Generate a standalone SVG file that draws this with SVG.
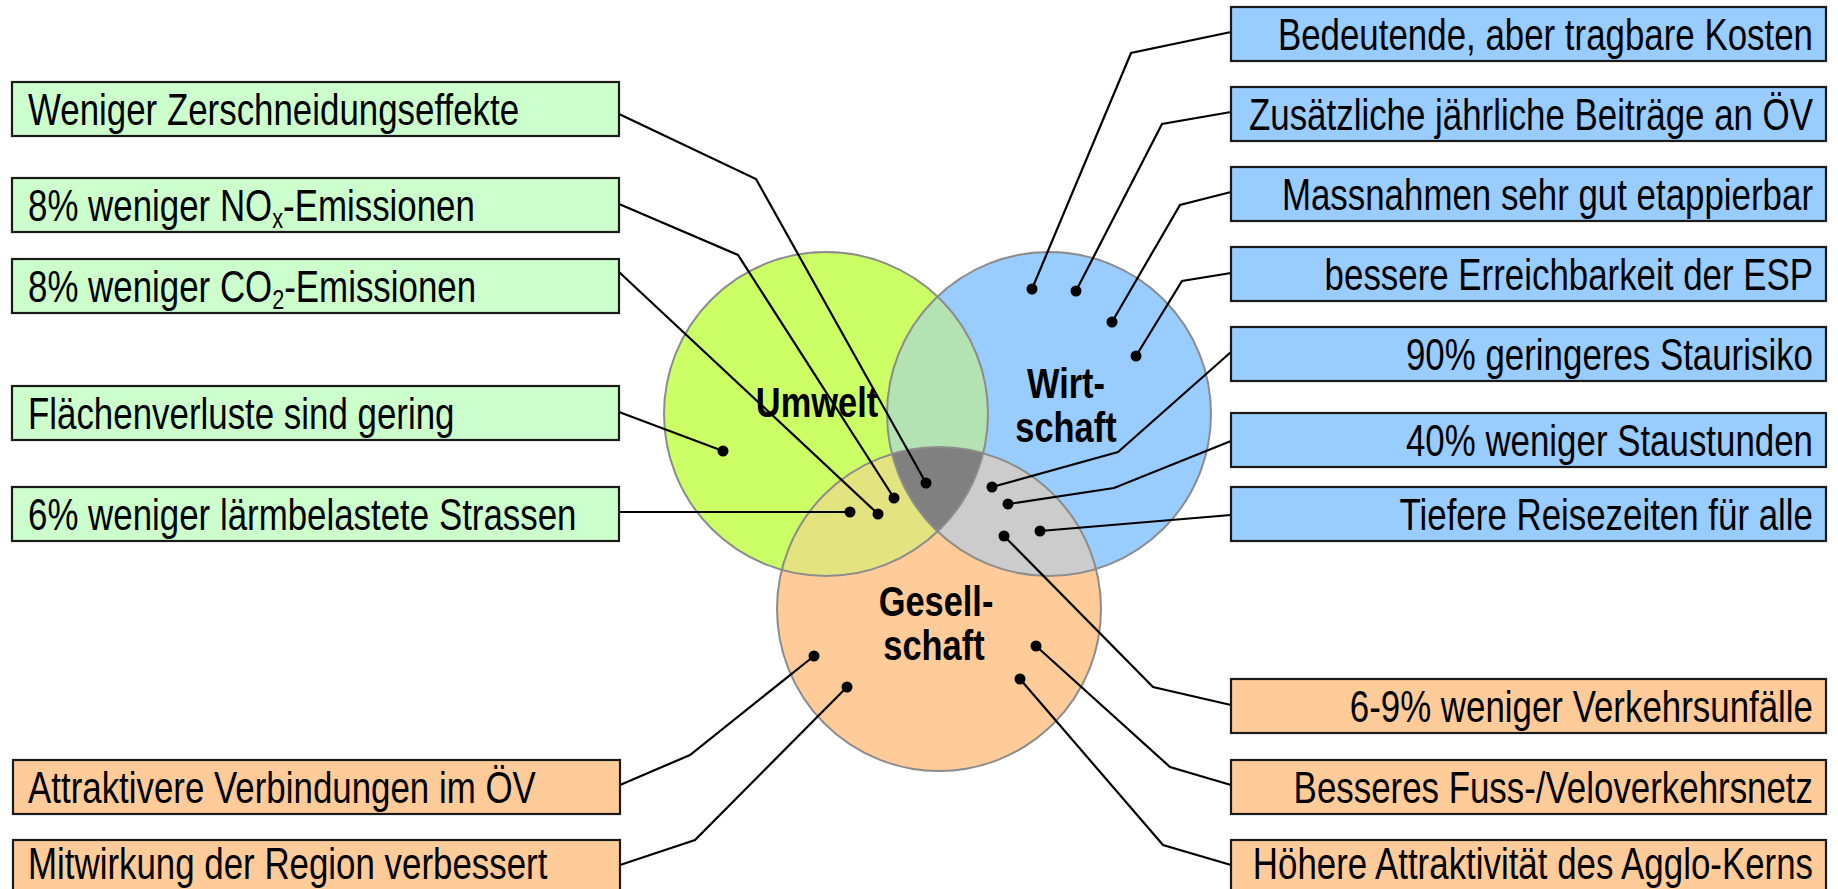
<svg xmlns="http://www.w3.org/2000/svg" width="1838" height="889" viewBox="0 0 1838 889">
<style>
.bg{fill:#CCFFCC;stroke:#1a1a1a;stroke-width:2.2}
.bb{fill:#99CCFF;stroke:#1a1a1a;stroke-width:2.2}
.bo{fill:#FFCC99;stroke:#1a1a1a;stroke-width:2.2}
.t{font-family:"Liberation Sans",Arial,sans-serif;font-size:45px;fill:#000}
.r{text-anchor:end}
.lbl{font-family:"Liberation Sans",Arial,sans-serif;font-size:43px;font-weight:bold;fill:#000;text-anchor:middle}
.ring{fill:none;stroke:#8c8c8c;stroke-width:2}
.con polyline{fill:none;stroke:#000;stroke-width:2.2;stroke-linejoin:miter}
.con circle{fill:#000}
</style>
<defs>
<clipPath id="clipG"><circle cx="826" cy="414" r="162"/></clipPath>
<clipPath id="clipB"><circle cx="1049" cy="414" r="162"/></clipPath>
</defs>
<rect width="1838" height="889" fill="#fff"/>
<g id="venn">
<circle cx="826" cy="414" r="162" fill="#CCFF66"/>
<circle cx="1049" cy="414" r="162" fill="#99CCFF"/>
<circle cx="939" cy="609" r="162" fill="#FFCC99"/>
<circle cx="1049" cy="414" r="162" fill="#B3E3B3" clip-path="url(#clipG)"/>
<circle cx="939" cy="609" r="162" fill="#E3E380" clip-path="url(#clipG)"/>
<circle cx="939" cy="609" r="162" fill="#CCCCCC" clip-path="url(#clipB)"/>
<g clip-path="url(#clipB)"><circle cx="939" cy="609" r="162" fill="#808080" clip-path="url(#clipG)"/></g>
<circle class="ring" cx="826" cy="414" r="162"/>
<circle class="ring" cx="1049" cy="414" r="162"/>
<circle class="ring" cx="939" cy="609" r="162"/>
<g id="label-umwelt"><text class="lbl" transform="translate(817,417) scale(0.8,1)">Umwelt</text></g>
<g id="label-wirtschaft"><text class="lbl" transform="translate(1066,398) scale(0.8,1)">Wirt-</text><text class="lbl" transform="translate(1066,442) scale(0.8,1)">schaft</text></g>
<g id="label-gesellschaft"><text class="lbl" transform="translate(936,616) scale(0.8,1)">Gesell-</text><text class="lbl" transform="translate(934,660) scale(0.8,1)">schaft</text></g>
</g>
<g id="connectors" class="con">
<polyline points="619,114 756,179 926,483"/>
<polyline points="619,204 738,255 894,498"/>
<polyline points="619,272 878,514"/>
<polyline points="619,412 723,451"/>
<polyline points="619,512 850,512"/>
<polyline points="620,785 690,755 814,656"/>
<polyline points="620,865 695,840 847,687"/>
<polyline points="1231,32 1131,53 1032,289"/>
<polyline points="1231,112 1162,124 1076,291"/>
<polyline points="1231,192 1180,205 1112,322"/>
<polyline points="1231,273 1182,281 1136,356"/>
<polyline points="1231,352 1118,452 992,487"/>
<polyline points="1231,441 1114,488 1008,504"/>
<polyline points="1231,515 1040,531"/>
<polyline points="1231,705 1153,687 1004,536"/>
<polyline points="1231,785 1170,767 1036,646"/>
<polyline points="1231,865 1163,845 1020,679"/>
<circle cx="926" cy="483" r="5.5"/>
<circle cx="894" cy="498" r="5.5"/>
<circle cx="878" cy="514" r="5.5"/>
<circle cx="723" cy="451" r="5.5"/>
<circle cx="850" cy="512" r="5.5"/>
<circle cx="814" cy="656" r="5.5"/>
<circle cx="847" cy="687" r="5.5"/>
<circle cx="1032" cy="289" r="5.5"/>
<circle cx="1076" cy="291" r="5.5"/>
<circle cx="1112" cy="322" r="5.5"/>
<circle cx="1136" cy="356" r="5.5"/>
<circle cx="992" cy="487" r="5.5"/>
<circle cx="1008" cy="504" r="5.5"/>
<circle cx="1040" cy="531" r="5.5"/>
<circle cx="1004" cy="536" r="5.5"/>
<circle cx="1036" cy="646" r="5.5"/>
<circle cx="1020" cy="679" r="5.5"/>
</g>
<g id="n-zerschneidung"><rect class="bg" x="12" y="82" width="607" height="54"/><text class="t" transform="translate(28,125) scale(0.775,1)">Weniger Zerschneidungseffekte</text></g>
<g id="n-nox"><rect class="bg" x="12" y="178" width="607" height="54"/><text class="t" transform="translate(28,221) scale(0.775,1)">8% weniger NO<tspan font-size="28" dy="7">x</tspan><tspan dy="-7">-Emissionen</tspan></text></g>
<g id="n-co2"><rect class="bg" x="12" y="259" width="607" height="54"/><text class="t" transform="translate(28,302) scale(0.775,1)">8% weniger CO<tspan font-size="28" dy="7">2</tspan><tspan dy="-7">-Emissionen</tspan></text></g>
<g id="n-flaechen"><rect class="bg" x="12" y="386" width="607" height="54"/><text class="t" transform="translate(28,429) scale(0.775,1)">Flächenverluste sind gering</text></g>
<g id="n-laerm"><rect class="bg" x="12" y="487" width="607" height="54"/><text class="t" transform="translate(28,530) scale(0.775,1)">6% weniger lärmbelastete Strassen</text></g>
<g id="n-oev"><rect class="bo" x="13" y="760" width="607" height="54"/><text class="t" transform="translate(28,803) scale(0.775,1)">Attraktivere Verbindungen im ÖV</text></g>
<g id="n-region"><rect class="bo" x="13" y="840" width="607" height="54"/><text class="t" transform="translate(28,879) scale(0.775,1)">Mitwirkung der Region verbessert</text></g>
<g id="n-kosten"><rect class="bb" x="1231" y="7" width="595" height="54"/><text class="t r" transform="translate(1813,50) scale(0.775,1)">Bedeutende, aber tragbare Kosten</text></g>
<g id="n-beitraege"><rect class="bb" x="1231" y="87" width="595" height="54"/><text class="t r" transform="translate(1813,130) scale(0.775,1)">Zusätzliche jährliche Beiträge an ÖV</text></g>
<g id="n-etappierbar"><rect class="bb" x="1231" y="167" width="595" height="54"/><text class="t r" transform="translate(1813,210) scale(0.775,1)">Massnahmen sehr gut etappierbar</text></g>
<g id="n-esp"><rect class="bb" x="1231" y="247" width="595" height="54"/><text class="t r" transform="translate(1813,290) scale(0.775,1)">bessere Erreichbarkeit der ESP</text></g>
<g id="n-staurisiko"><rect class="bb" x="1231" y="327" width="595" height="54"/><text class="t r" transform="translate(1813,370) scale(0.775,1)">90% geringeres Staurisiko</text></g>
<g id="n-staustunden"><rect class="bb" x="1231" y="413" width="595" height="54"/><text class="t r" transform="translate(1813,456) scale(0.775,1)">40% weniger Staustunden</text></g>
<g id="n-reisezeiten"><rect class="bb" x="1231" y="487" width="595" height="54"/><text class="t r" transform="translate(1813,530) scale(0.775,1)">Tiefere Reisezeiten für alle</text></g>
<g id="n-unfaelle"><rect class="bo" x="1231" y="679" width="595" height="54"/><text class="t r" transform="translate(1813,722) scale(0.775,1)">6-9% weniger Verkehrsunfälle</text></g>
<g id="n-fussvelo"><rect class="bo" x="1231" y="760" width="595" height="54"/><text class="t r" transform="translate(1813,803) scale(0.775,1)">Besseres Fuss-/Veloverkehrsnetz</text></g>
<g id="n-agglo"><rect class="bo" x="1231" y="840" width="595" height="54"/><text class="t r" transform="translate(1813,879) scale(0.775,1)">Höhere Attraktivität des Agglo-Kerns</text></g>
</svg>
